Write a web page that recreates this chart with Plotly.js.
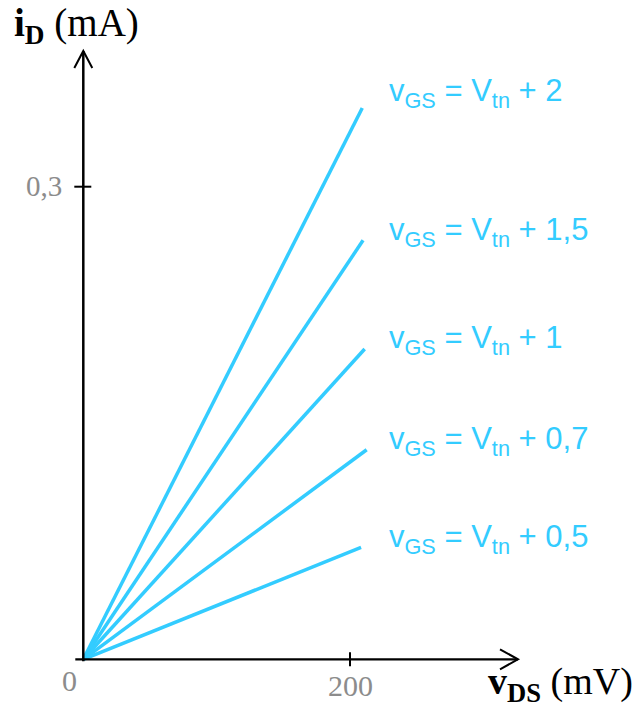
<!DOCTYPE html>
<html>
<head>
<meta charset="utf-8">
<script src="https://cdn.plot.ly/plotly-3.0.1.min.js"></script>
<style>html,body{margin:0;padding:0;background:#fff;}#chart{width:639px;height:707px;}</style>
</head>
<body>
<div id="chart"></div>
<script>
// Data
const overdrive = ['2', '1,5', '1', '0,7', '0,5'];   // vGS - Vtn (V)
const vdsEnd = [209.2, 209.8, 211.0, 212.5, 208.3];  // mV
const idEnd = [0.350, 0.266, 0.197, 0.133, 0.071];   // mA
const yTickVals = [0.3];
const yTickText = ['0,3'];
const xTickVals = [200];
const xTickText = ['200'];

const blue = '#33CCFF';
const gray = '#8c8c8c';
const serif = '"Liberation Serif", "Times New Roman", serif';
const sans = '"Liberation Sans", Arial, sans-serif';

// pixel mapping helpers (plot area = whole figure)
const X0 = 83.3, Y0 = 659.3, KX = 266.7 / 200, KY = 472.6 / 0.3;
const W = 639, H = 707;
const xRange = [(0 - X0) / KX, (W - X0) / KX];
const yRange = [(Y0 - H) / KY, (Y0 - 0) / KY];
const dx = p => p / KX, dy = p => p / KY;

const traces = overdrive.map((od, i) => ({
  x: [0, vdsEnd[i]],
  y: [0, idEnd[i]],
  mode: 'lines',
  line: {color: blue, width: 3.5},
  hoverinfo: 'skip',
  showlegend: false
}));

const xAxisEnd = dx(518 - X0);
const yAxisEnd = dy(Y0 - 51);

const shapes = [
  // axes
  {type: 'line', xref: 'x', yref: 'y', x0: dx(-8), y0: 0, x1: xAxisEnd, y1: 0, line: {color: '#000', width: 2.2}},
  {type: 'line', xref: 'x', yref: 'y', x0: 0, y0: dy(-2), x1: 0, y1: yAxisEnd, line: {color: '#000', width: 2.5}},
  // arrowheads
  {type: 'path', xref: 'x', yref: 'y',
   path: `M ${xAxisEnd - dx(18)} ${dy(10)} L ${xAxisEnd} 0 L ${xAxisEnd - dx(18)} ${-dy(10)}`,
   line: {color: '#000', width: 2}},
  {type: 'path', xref: 'x', yref: 'y',
   path: `M ${-dx(9)} ${yAxisEnd - dy(17)} L 0 ${yAxisEnd} L ${dx(9)} ${yAxisEnd - dy(17)}`,
   line: {color: '#000', width: 2}}
];
yTickVals.forEach(v => shapes.push({type: 'line', xref: 'x', yref: 'y', x0: -dx(9), x1: dx(8), y0: v, y1: v, line: {color: '#000', width: 2}}));
xTickVals.forEach(v => shapes.push({type: 'line', xref: 'x', yref: 'y', x0: v, x1: v, y0: -dy(7), y1: dy(7), line: {color: '#000', width: 2}}));

const annotations = [];
yTickVals.forEach((v, i) => annotations.push({x: 0, y: v, xref: 'x', yref: 'y', text: yTickText[i], showarrow: false,
  xanchor: 'right', yanchor: 'middle', xshift: -19, yshift: 1, font: {family: serif, size: 29, color: gray}}));
xTickVals.forEach((v, i) => annotations.push({x: v, y: 0, xref: 'x', yref: 'y', text: xTickText[i], showarrow: false,
  xanchor: 'center', yanchor: 'middle', yshift: -26, font: {family: serif, size: 30, color: gray}}));
annotations.push({x: 0, y: 0, xref: 'x', yref: 'y', text: '0', showarrow: false,
  xanchor: 'center', yanchor: 'middle', xshift: -14, yshift: -21, font: {family: serif, size: 30, color: gray}});

// label vertical offsets (px) relative to each line's end
const labelShift = [14.5, 8.5, 8.5, 8.5, 8.5];
overdrive.forEach((od, i) => annotations.push({
  x: dx(386.7 - X0), y: idEnd[i], xref: 'x', yref: 'y',
  text: `v<sub>GS</sub> = V<sub>tn</sub> + ${od}`, showarrow: false,
  xanchor: 'left', yanchor: 'middle', yshift: labelShift[i],
  font: {family: sans, size: 31, color: blue}
}));

annotations.push({x: 12 / W, y: 1 - 25 / H, xref: 'paper', yref: 'paper',
  text: '<b>i<sub>D</sub></b> (mA)', showarrow: false, xanchor: 'left', yanchor: 'middle',
  font: {family: serif, size: 39, color: '#000'}});
annotations.push({x: 635 / W, y: 1 - 684 / H, xref: 'paper', yref: 'paper',
  text: '<b>v<sub>DS</sub></b> (mV)', showarrow: false, xanchor: 'right', yanchor: 'middle',
  font: {family: serif, size: 38, color: '#000'}});

const layout = {
  width: W, height: H,
  margin: {l: 0, r: 0, t: 0, b: 0, pad: 0},
  paper_bgcolor: '#fff', plot_bgcolor: '#fff',
  xaxis: {range: xRange, visible: false, fixedrange: true},
  yaxis: {range: yRange, visible: false, fixedrange: true},
  shapes: shapes,
  annotations: annotations,
  showlegend: false
};

Plotly.newPlot('chart', traces, layout, {displayModeBar: false, staticPlot: true});
</script>
</body>
</html>
